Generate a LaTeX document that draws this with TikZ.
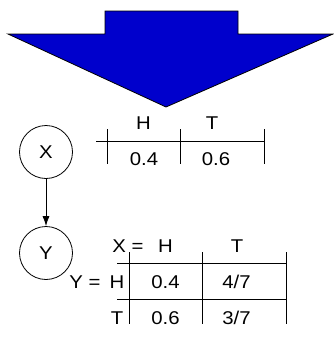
\documentclass[tikz,border=0pt]{standalone}
\usepackage{fontspec}
\setmainfont{Liberation Sans}[FakeStretch=1.1]
\usetikzlibrary{arrows.meta}
\definecolor{arrowblue}{RGB}{0,0,204}

\begin{document}
\begin{tikzpicture}[x=1pt, y=-1pt, >={Latex[length=10pt,width=7pt]}, line width=0.8pt,
  every node/.style={font=\fontsize{18.5}{18.5}\selectfont, inner sep=0pt},
  cell/.style={anchor=base},
  var/.style={draw, circle, minimum size=53pt}]
  \useasboundingbox (0,0) rectangle (334,338);

  % big arrow
  \draw[fill=arrowblue] (105,11) -- (238,11) -- (238,34) -- (333,34)
    -- (166,107) -- (8,34) -- (105,34) -- cycle;

  \node[var] (X) at (46,152) {X};
  \node[var] (Y) at (46,253) {Y};
  \draw[->] (X) -- (Y);

  % P(X)
  \draw (96,141) -- (264,141);
  \foreach \x in {107,180,264} \draw (\x,129) -- (\x,164);
  \node[cell] (xh) at (143.5,129) {H};
  \node[cell] (xt) at (212,129) {T};
  \node[cell] (px1) at (144,165) {0.4};
  \node[cell] (px2) at (216,165) {0.6};

  % P(Y|X)
  \draw (117,263) -- (286,263);
  \draw (117,299) -- (286,299);
  \foreach \x in {129,202,286} \draw (\x,252) -- (\x,324);
  \node[cell, anchor=base west] (xeq) at (112,252) {X =};
  \node[cell] (ch) at (165.5,252) {H};
  \node[cell] (ct) at (237,252) {T};
  \node[cell, anchor=base east] (yeq) at (101,288) {Y =};
  \node[cell] (rh) at (117,288) {H};
  \node[cell] (rt) at (117,324) {T};
  \node[cell] (p11) at (165.5,288) {0.4};
  \node[cell] (p12) at (236.5,288) {4/7};
  \node[cell] (p21) at (165.5,324) {0.6};
  \node[cell] (p22) at (236.5,324) {3/7};
\end{tikzpicture}
\end{document}
